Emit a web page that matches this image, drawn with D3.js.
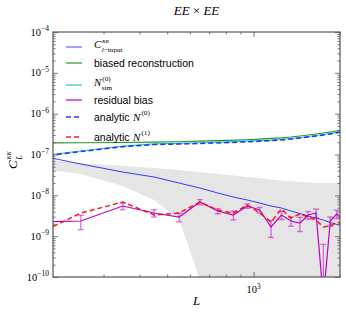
<!DOCTYPE html>
<html>
<head>
<meta charset="utf-8">
<script src="https://cdn.jsdelivr.net/npm/d3@7"></script>
<style>
  body { margin: 0; background: #fff; }
  text { font-family: "Liberation Serif", "DejaVu Serif", serif; fill: #000; }
  .leg { font-family: "Liberation Sans", Arial, sans-serif; font-size: 10.5px; }
</style>
</head>
<body>
<div id="chart"></div>
<script>
// bin centres
const ells = [150, 250, 350, 450, 550, 650, 750, 850, 950, 1050, 1150, 1250, 1350, 1450, 1550, 1650, 1750, 1850, 1950, 2050];

const inputCl = [1.22e-7, 5.85e-8, 3.72e-8, 2.81e-8, 2.0e-8, 1.51e-8, 1.14e-8, 9.1e-9, 7.68e-9, 6.49e-9,
                 5.47e-9, 4.89e-9, 4.13e-9, 3.59e-9, 3.11e-9, 2.78e-9, 2.48e-9, 2.16e-9, 1.93e-9, 1.77e-9];
const biasedReco = [1.91e-7, 1.94e-7, 1.97e-7, 2.0e-7, 2.05e-7, 2.12e-7, 2.18e-7, 2.24e-7, 2.3e-7, 2.37e-7,
                    2.47e-7, 2.56e-7, 2.68e-7, 2.84e-7, 3.0e-7, 3.18e-7, 3.36e-7, 3.56e-7, 3.76e-7, 3.98e-7];
const n0Sim = [7.76e-8, 1.22e-7, 1.61e-7, 1.83e-7, 1.88e-7, 1.94e-7, 2.0e-7, 2.06e-7, 2.12e-7, 2.18e-7,
               2.26e-7, 2.36e-7, 2.47e-7, 2.61e-7, 2.76e-7, 2.92e-7, 3.09e-7, 3.27e-7, 3.48e-7, 3.68e-7];
const residualBias = [2.16e-9, 2.35e-9, 5.47e-9, 3.69e-9, 2.94e-9, 6.86e-9, 4.13e-9, 3.3e-9, 5.47e-9, 4.37e-9,
                      1.68e-9, 3.3e-9, 2.35e-9, 2.1e-9, 3.3e-9, 3.69e-9, 3e-11, 2.35e-9, 3.5e-9, 2.48e-9];
const residualErr = [0.9e-9, 0.9e-9, 1.0e-9, 0.75e-9, 0.7e-9, 1.0e-9, 0.6e-9, 0.8e-9, 0.65e-9, 0.7e-9,
                     0.75e-9, 0.75e-9, 0.6e-9, 0.8e-9, 0.7e-9, 0.9e-9, 0.6e-9, 0.6e-9, 0.8e-9, 0.8e-9];
const analyticN0 = [7.5e-8, 1.18e-7, 1.55e-7, 1.75e-7, 1.8e-7, 1.86e-7, 1.92e-7, 1.98e-7, 2.04e-7, 2.1e-7,
                    2.18e-7, 2.27e-7, 2.38e-7, 2.52e-7, 2.67e-7, 2.83e-7, 3.0e-7, 3.18e-7, 3.4e-7, 3.6e-7];
const analyticN1 = [6.4e-10, 3.69e-9, 6.86e-9, 3.3e-9, 3.69e-9, 6.86e-9, 4.37e-9, 3.69e-9, 5.79e-9, 3.69e-9,
                    2.22e-9, 4.63e-9, 2.78e-9, 3.5e-9, 2.94e-9, 2.48e-9, 1.68e-9, 1.77e-9, 2.22e-9, 1.98e-9];
// grey scatter band
const bandUpper = [8.69e-8, 6.19e-8, 5.22e-8, 4.67e-8, 4.17e-8, 3.72e-8, 3.33e-8, 3.06e-8, 2.81e-8, 2.65e-8,
                   2.44e-8, 2.3e-8, 2.2e-8, 2.12e-8, 2.06e-8, 2.0e-8, 2.0e-8, 2.0e-8, 2.0e-8, 2.0e-8];
const bandLower = [5.22e-8, 3.33e-8, 1.69e-8, 7.68e-9, 2.63e-9, 8.4e-11, 1e-12, 1e-12, 1e-12, 1e-12,
                   1e-12, 1e-12, 1e-12, 1e-12, 1e-12, 1e-12, 1e-12, 1e-12, 1e-12, 1e-12];

const yExps = [-4, -5, -6, -7, -8, -9, -10];
const xMajor = [1000];
const xMinor = [300, 400, 500, 600, 700, 800, 900, 2000];

const W = 346, H = 315;
const M = { left: 53, right: 340, top: 32, bottom: 277 };
const floor = 1e-12;

const svg = d3.select("#chart").append("svg").attr("width", W).attr("height", H);

const x = d3.scaleLog().domain([200, 2000]).range([M.left, M.right]);
const y = d3.scaleLog().domain([1e-10, 1e-4]).range([M.bottom, M.top]);

svg.append("defs").append("clipPath").attr("id", "plot")
  .append("rect")
  .attr("x", M.left).attr("y", M.top)
  .attr("width", M.right - M.left).attr("height", M.bottom - M.top);

const plot = svg.append("g").attr("clip-path", "url(#plot)");

// band
const band = ells.map((L, i) => ({ L: L, hi: bandUpper[i], lo: bandLower[i] }));
plot.append("path")
  .datum(band)
  .attr("fill", "#e5e5e5")
  .attr("d", d3.area()
    .x(d => x(d.L))
    .y0(d => y(Math.max(d.lo, floor)))
    .y1(d => y(d.hi)));

const line = d3.line().x(d => x(d[0])).y(d => y(Math.max(d[1], floor)));
const pairs = vals => ells.map((L, i) => [L, vals[i]]);

const series = [
  { vals: inputCl, color: "#0000ff", width: 1, opacity: 0.75 },
  { vals: biasedReco, color: "#008000", width: 1.2, opacity: 0.85 },
  { vals: n0Sim, color: "#00bfbf", width: 1.2, opacity: 0.85 },
  { vals: residualBias, color: "#bf00bf", width: 1.2, opacity: 1 },
  { vals: analyticN0, color: "#0000ff", width: 1.5, opacity: 0.8, dash: "5,3" },
  { vals: analyticN1, color: "#ff0000", width: 1.5, opacity: 0.9, dash: "5,3" }
];

// error bars of residual bias
const eb = plot.append("g")
  .attr("stroke", "#bf00bf")
  .attr("stroke-opacity", 0.5)
  .attr("stroke-width", 1.4);
ells.forEach((L, i) => {
  const v = residualBias[i], e = residualErr[i];
  const x0 = x(L);
  const yTop = y(v + e), yBot = y(Math.max(v - e, floor));
  eb.append("line").attr("x1", x0).attr("x2", x0).attr("y1", yTop).attr("y2", yBot);
  eb.append("line").attr("x1", x0 - 3).attr("x2", x0 + 3).attr("y1", yTop).attr("y2", yTop);
  eb.append("line").attr("x1", x0 - 3).attr("x2", x0 + 3).attr("y1", yBot).attr("y2", yBot);
});

series.forEach(s => {
  plot.append("path")
    .datum(pairs(s.vals))
    .attr("fill", "none")
    .attr("stroke", s.color)
    .attr("stroke-width", s.width)
    .attr("stroke-opacity", s.opacity)
    .attr("stroke-dasharray", s.dash || null)
    .attr("d", line);
});

// axes: ticks inside on all four sides
const yMinor = [];
for (let e = -10; e < -4; e++) for (let m = 2; m <= 9; m++) yMinor.push(m * Math.pow(10, e));
const yMajor = yExps.map(e => Math.pow(10, e));

function ticks(axis, vals, len, tx, ty) {
  const g = svg.append("g")
    .attr("transform", `translate(${tx},${ty})`)
    .call(axis.tickValues(vals).tickSize(-len).tickFormat(""));
  g.select(".domain").remove();
  g.selectAll("line").attr("stroke", "#555").attr("stroke-width", 0.8);
}
ticks(d3.axisLeft(y), yMajor, 5, M.left, 0);
ticks(d3.axisLeft(y), yMinor, 2.5, M.left, 0);
ticks(d3.axisRight(y), yMajor, 5, M.right, 0);
ticks(d3.axisRight(y), yMinor, 2.5, M.right, 0);
ticks(d3.axisBottom(x), xMajor, 5, 0, M.bottom);
ticks(d3.axisBottom(x), xMinor, 2.5, 0, M.bottom);
ticks(d3.axisTop(x), xMajor, 5, 0, M.top);
ticks(d3.axisTop(x), xMinor, 2.5, 0, M.top);

svg.append("rect")
  .attr("x", M.left).attr("y", M.top)
  .attr("width", M.right - M.left).attr("height", M.bottom - M.top)
  .attr("fill", "none").attr("stroke", "#555").attr("stroke-width", 1.2);

// tick labels
yExps.forEach(e => {
  const t = svg.append("text")
    .attr("x", M.left - 4).attr("y", y(Math.pow(10, e)) + 3.5)
    .attr("text-anchor", "end").style("font-size", "10.5px");
  t.append("tspan").text("10");
  t.append("tspan").attr("dy", -4.5).style("font-size", "7.5px").text("\u2212" + Math.abs(e));
});
xMajor.forEach(v => {
  const t = svg.append("text")
    .attr("x", x(v)).attr("y", 293)
    .attr("text-anchor", "middle").style("font-size", "10.5px");
  t.append("tspan").text("10");
  t.append("tspan").attr("dy", -4.5).style("font-size", "7.5px").text(Math.round(Math.log10(v)));
});

// title and axis labels
const title = svg.append("text")
  .attr("x", (M.left + M.right) / 2).attr("y", 15)
  .attr("text-anchor", "middle").style("font-size", "13px");
title.append("tspan").style("font-style", "italic").text("EE");
title.append("tspan").text(" \u00d7 ");
title.append("tspan").style("font-style", "italic").text("EE");

svg.append("text")
  .attr("x", (M.left + M.right) / 2).attr("y", 305)
  .attr("text-anchor", "middle")
  .style("font-size", "13px").style("font-style", "italic")
  .text("L");

// math label: base with stacked sup/sub
function mathLabel(g, x0, y0, base, sup, sub, size) {
  const b = g.append("text").attr("x", x0).attr("y", y0)
    .style("font-size", size + "px").style("font-style", "italic").text(base);
  const w = b.node().getComputedTextLength();
  const small = size * 0.65;
  if (sup) g.append("text").attr("x", x0 + w + 1).attr("y", y0 - size * 0.5)
    .style("font-size", small + "px").style("font-style", sup.italic ? "italic" : "normal").text(sup.t);
  if (sub) {
    const s = g.append("text").attr("x", x0 + w + 0.5).attr("y", y0 + size * 0.35)
      .style("font-size", small + "px");
    sub.forEach(p => s.append("tspan").style("font-style", p.italic ? "italic" : "normal").text(p.t));
  }
  return w;
}

const yl = svg.append("g").attr("transform", "translate(17,160) rotate(-90)");
mathLabel(yl, -9, 0, "C", { t: "\u03ba\u03ba", italic: true }, [{ t: "L", italic: true }], 13);

// legend
const legendY = [47, 63, 85, 100, 117, 137];
const leg = svg.append("g");
series.forEach((s, i) => {
  leg.append("line")
    .attr("x1", 66).attr("x2", 82)
    .attr("y1", legendY[i]).attr("y2", legendY[i])
    .attr("stroke", s.color).attr("stroke-width", s.width)
    .attr("stroke-opacity", s.opacity)
    .attr("stroke-dasharray", s.dash || null);
});
mathLabel(leg, 94, 48, "C", { t: "\u03ba\u03ba", italic: true },
  [{ t: "l", italic: true }, { t: "\u2212input" }], 11);
leg.append("text").attr("class", "leg").attr("x", 94).attr("y", legendY[1] + 3.8).text("biased reconstruction");
mathLabel(leg, 94, 86, "N", { t: "(0)" }, [{ t: "sim" }], 11);
leg.append("text").attr("class", "leg").attr("x", 94).attr("y", legendY[3] + 3.8).text("residual bias");
[4, 5].forEach((i, k) => {
  const t = leg.append("text").attr("class", "leg").attr("x", 94).attr("y", legendY[i] + 3.8).text("analytic");
  const w = t.node().getComputedTextLength() + 3.5;
  mathLabel(leg, 94 + w, legendY[i] + 3.8, "N", { t: k === 0 ? "(0)" : "(1)" }, null, 11);
});
</script>
</body>
</html>
